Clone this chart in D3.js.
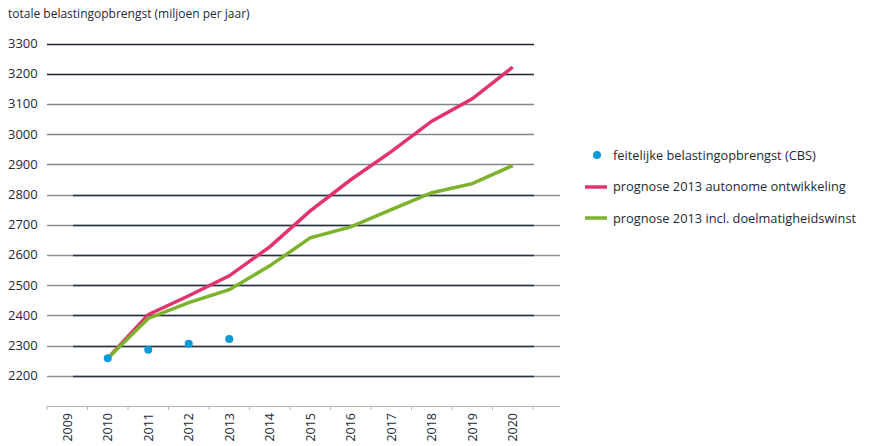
<!DOCTYPE html>
<html>
<head>
<meta charset="utf-8">
<script src="https://cdn.jsdelivr.net/npm/d3@7"></script>
<style>
  body { margin: 0; background: #fff; }
  text { font-family: "Open Sans", "Noto Sans", sans-serif; fill: #1d2a36; }
</style>
</head>
<body>
<div class="chart"></div>
<script>
// Data
var years = ["2009", "2010", "2011", "2012", "2013", "2014", "2015", "2016", "2017", "2018", "2019", "2020"];
var yTicks = [2200, 2300, 2400, 2500, 2600, 2700, 2800, 2900, 3000, 3100, 3200, 3300];

var actualYears = ["2010", "2011", "2012", "2013"];
var actualValues = [2258, 2286, 2306, 2322];

var forecastYears = ["2010", "2011", "2012", "2013", "2014", "2015", "2016", "2017", "2018", "2019", "2020"];
var autonomousValues = [2258, 2402, 2465, 2531, 2627, 2746, 2849, 2942, 3043, 3117, 3222];
var efficiencyValues = [2258, 2390, 2442, 2485, 2564, 2657, 2693, 2750, 2806, 2836, 2896];

var legendLabels = [
  "feitelijke belastingopbrengst (CBS)",
  "prognose 2013 autonome ontwikkeling",
  "prognose 2013 incl. doelmatigheidswinst"
];

var pink = "#e3336f";
var green = "#7cb32c";
var blue = "#0b9bd9";

var svgWidth = 875, svgHeight = 446;

var svg = d3.select(".chart").append("svg")
  .attr("width", svgWidth)
  .attr("height", svgHeight);

var x = d3.scaleBand().domain(years).range([47, 533]);
var y = d3.scaleLinear().domain([2100, 3300]).range([406, 43.5]);

// title
svg.append("text")
  .attr("x", 8).attr("y", 18)
  .style("font-size", "12px")
  .text("totale belastingopbrengst (miljoen per jaar)");

// gridlines (two overlapping layers as in the original)
yTicks.forEach(function(v) {
  var yy = Math.round(y(v)) + 0.5;
  if (v <= 2800) {
    svg.append("line").attr("x1", 47).attr("x2", 560).attr("y1", yy).attr("y2", yy)
      .attr("stroke", "#8c9196").attr("stroke-width", 1.6);
    svg.append("line").attr("x1", 73).attr("x2", 534).attr("y1", yy).attr("y2", yy)
      .attr("stroke", "#26323e").attr("stroke-width", 1.6);
  } else {
    var c = (v >= 3200) ? "#1c2733" : "#80868c";
    svg.append("line").attr("x1", 47).attr("x2", 534).attr("y1", yy).attr("y2", yy)
      .attr("stroke", c).attr("stroke-width", 1.6);
  }
});

// y labels
svg.selectAll(".ylab").data(yTicks).enter().append("text")
  .attr("class", "ylab")
  .attr("x", 8)
  .attr("y", function(d) { return y(d) + 4.5; })
  .style("font-size", "13px")
  .text(function(d) { return d; });

// x axis
var xa = svg.append("g");
xa.append("line").attr("x1", 47).attr("x2", 560).attr("y1", 406.5).attr("y2", 406.5)
  .attr("stroke", "#b5b8bb").attr("stroke-width", 1.2);
years.concat(["end"]).forEach(function(d, i) {
  var xx = 47 + i * x.bandwidth();
  xa.append("line").attr("x1", xx).attr("x2", xx).attr("y1", 406).attr("y2", 410)
    .attr("stroke", "#b5b8bb").attr("stroke-width", 1);
});
xa.selectAll("text").data(years).enter().append("text")
  .attr("transform", function(d) {
    return "translate(" + (x(d) + x.bandwidth() / 2 + 4.5) + ",413) rotate(-90)";
  })
  .attr("text-anchor", "end")
  .style("font-size", "12.5px")
  .text(function(d) { return d; });

// forecast lines
var cx = function(d) { return x(d) + x.bandwidth() / 2; };
var line = d3.line()
  .x(function(d) { return cx(d[0]); })
  .y(function(d) { return y(d[1]); });

svg.append("path")
  .datum(d3.zip(forecastYears, autonomousValues))
  .attr("d", line)
  .attr("fill", "none").attr("stroke", pink).attr("stroke-width", 3.5);

svg.append("path")
  .datum(d3.zip(forecastYears, efficiencyValues))
  .attr("d", line)
  .attr("fill", "none").attr("stroke", green).attr("stroke-width", 3.5);

// actual dots
svg.selectAll(".dot").data(d3.zip(actualYears, actualValues)).enter().append("circle")
  .attr("cx", function(d) { return cx(d[0]); })
  .attr("cy", function(d) { return y(d[1]); })
  .attr("r", 4)
  .attr("fill", blue);

// legend
var legend = svg.append("g");
legend.append("circle").attr("cx", 597).attr("cy", 155).attr("r", 4).attr("fill", blue);
legend.append("line").attr("x1", 585).attr("x2", 607).attr("y1", 187).attr("y2", 187)
  .attr("stroke", pink).attr("stroke-width", 3.5);
legend.append("line").attr("x1", 585).attr("x2", 607).attr("y1", 218).attr("y2", 218)
  .attr("stroke", green).attr("stroke-width", 3.5);
legend.selectAll("text").data(legendLabels).enter().append("text")
  .attr("x", 613)
  .attr("y", function(d, i) { return 159.5 + i * 31.5; })
  .style("font-size", "12.8px")
  .text(function(d) { return d; });
</script>
</body>
</html>
